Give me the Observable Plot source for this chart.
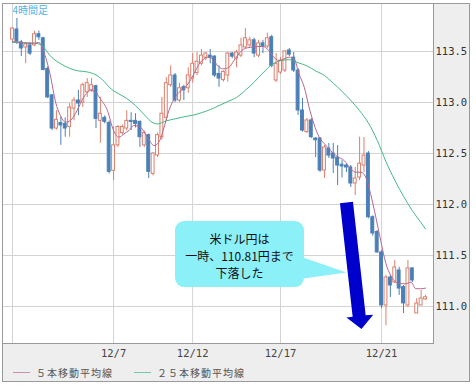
<!DOCTYPE html>
<html>
<head>
<meta charset="utf-8">
<script src="https://cdn.jsdelivr.net/npm/d3@7"></script>
<script src="https://cdn.jsdelivr.net/npm/@observablehq/plot@0.6"></script>
<style>
  html, body { margin: 0; padding: 0; background: #fff; }
  #wrap { position: relative; width: 476px; height: 387px; }
  #bg { position: absolute; left: 2px; top: 3px; width: 468px; height: 379px; background: #eeeeee; border: 1px solid #9a9a9a; box-sizing: border-box; }
  #chart { position: relative; }
  #legend { position: relative; height: 20px; font-family: "Noto Sans CJK JP", sans-serif; font-size: 10px; color: #555; }
</style>
</head>
<body>
<div id="wrap">
  <div id="bg"></div>
  <div id="chart"></div>
  <div id="legend"></div>
</div>
<script>
// ---- data (USD/JPY, 4-hour bars) ----
const opens = [113.618,113.716,113.59,113.54,113.56,113.56,113.67,113.63,113.33,113.07,
  112.745,112.80,112.79,112.76,112.94,113.02,113.00,113.10,113.12,113.16,
  112.82,112.85,112.80,112.33,112.58,112.70,112.745,112.82,112.82,112.81,
  112.58,112.68,112.30,112.48,112.66,112.85,113.17,113.265,113.02,113.15,
  113.14,113.235,113.29,113.38,113.44,113.46,113.45,113.28,113.22,113.265,
  113.48,113.43,113.46,113.54,113.56,113.61,113.46,113.58,113.55,113.64,
  113.216,113.294,113.314,113.51,113.44,113.314,112.922,112.71,112.824,112.647,
  112.647,112.333,112.549,112.50,112.46,112.39,112.382,112.363,112.206,112.265,
  112.382,112.50,111.875,111.73,111.53,111.01,111.284,111.235,111.353,111.19,
  111.01,111.373,110.931,111.01,111.069];
const highs = [113.735,113.824,113.61,113.58,113.59,113.70,113.70,113.64,113.35,113.08,
  112.92,112.86,112.85,112.99,113.05,113.12,113.19,113.235,113.235,113.17,
  113.05,112.87,112.82,112.76,112.775,112.78,112.92,112.90,112.89,112.82,
  112.72,112.69,112.51,112.70,113.05,113.245,113.36,113.285,113.19,113.17,
  113.34,113.48,113.49,113.52,113.49,113.52,113.46,113.36,113.31,113.49,
  113.49,113.51,113.63,113.725,113.64,113.63,113.61,113.61,113.68,113.66,
  113.48,113.44,113.51,113.53,113.49,113.333,113.04,112.843,112.843,112.657,
  112.657,112.578,112.598,112.598,112.578,112.43,112.40,112.382,112.363,112.66,
  112.657,112.52,111.89,111.745,111.55,111.304,111.304,111.451,111.385,111.206,
  111.451,111.382,111.078,111.157,111.108];
const lows = [113.59,113.569,113.45,113.38,113.46,113.55,113.61,113.31,113.04,112.725,
  112.73,112.58,112.66,112.66,112.82,112.87,112.95,113.05,113.10,112.745,
  112.60,112.79,112.30,112.235,112.56,112.68,112.72,112.725,112.75,112.56,
  112.56,112.255,112.28,112.46,112.63,112.82,113.15,113.00,113.00,113.02,
  113.09,113.19,113.265,113.36,113.41,113.38,113.245,113.15,113.20,113.20,
  113.43,113.34,113.44,113.53,113.54,113.44,113.44,113.48,113.53,113.34,
  113.196,113.275,113.294,113.45,113.294,112.873,112.71,112.696,112.647,112.46,
  112.314,112.255,112.451,112.304,112.186,112.26,112.314,112.167,112.088,112.235,
  112.314,111.86,111.69,111.52,110.98,110.81,111.088,111.225,111.108,110.93,
  110.993,111.235,110.931,111.01,111.06];
const closes = [113.725,113.598,113.53,113.57,113.48,113.67,113.64,113.32,113.05,112.745,
  112.83,112.775,112.745,112.95,113.02,112.99,113.17,113.19,113.17,112.84,
  112.89,112.81,112.32,112.58,112.76,112.76,112.82,112.81,112.79,112.66,
  112.70,112.32,112.50,112.68,112.89,113.19,113.265,113.02,113.14,113.12,
  113.265,113.38,113.40,113.46,113.48,113.44,113.265,113.235,113.30,113.48,
  113.45,113.49,113.56,113.63,113.61,113.48,113.58,113.55,113.63,113.36,
  113.38,113.41,113.50,113.47,113.314,112.922,112.725,112.824,112.66,112.63,
  112.333,112.56,112.48,112.451,112.382,112.373,112.363,112.206,112.255,112.40,
  112.48,111.875,111.716,111.53,111.01,111.284,111.206,111.382,111.176,111.03,
  111.373,111.255,111.029,111.078,111.09];

// 5-bar moving average (bar position, price)
const ma5Pos = [0,2,4,6,7,8.7,9.8,10.9,12,13.2,14.7,16.2,17.8,18.9,20,21.6,23,24.2,25.4,26.5,27.6,29.1,
  30.7,32.2,33.3,34.5,35.6,36.8,37.9,39,40.2,41.3,42.5,43.6,44.7,45.8,47,48.1,49.3,50.4,51.5,52.7,
  54.2,55.7,57.2,58.3,59.5,60.6,61.8,63,64.1,65.2,66.4,67.5,68.6,69.8,71,72.4,73.9,75.5,77,78.1,
  79.3,80.4,81.5,82.7,83.8,85,86.1,87.3,88.4,89.5,90.7,91.8,92.9,94];
const ma5Val = [113.598,113.588,113.578,113.588,113.51,113.248,113.003,112.873,112.807,112.824,112.922,113.052,
  113.118,113.10,113.036,112.922,112.725,112.66,112.693,112.725,112.775,112.758,
  112.66,112.578,112.611,112.758,112.922,113.036,113.10,113.134,113.199,113.281,113.379,113.428,113.444,
  113.412,113.346,113.33,113.346,113.412,113.477,113.526,
  113.542,113.549,113.549,113.51,113.444,113.412,113.428,113.444,113.428,113.281,113.15,112.954,112.791,
  112.66,112.595,112.529,112.471,112.431,112.35,112.317,
  112.317,112.268,112.105,111.875,111.647,111.419,111.304,111.238,111.223,111.223,111.238,111.174,111.174,111.18];

// 25-bar moving average
const ma25Pos = [0,4,6,7,8,9,11,13,15,17,19,21,22,24,26,28,30,32,33,35,37,39,41,43,45,47,49,51,53,55,57,59,61,63,65,
  67,69,71,73,75,77,79,81,83,85,87,89,91,93,94];
const ma25Val = [113.59,113.585,113.575,113.55,113.49,113.44,113.38,113.335,113.31,113.30,113.27,113.20,113.15,
  113.09,113.04,112.97,112.88,112.80,112.79,112.82,112.84,112.86,112.875,112.90,112.93,112.97,113.01,113.05,
  113.12,113.20,113.29,113.37,113.41,113.42,113.39,113.36,113.31,113.265,113.19,113.11,113.02,112.92,112.80,
  112.63,112.42,112.24,112.08,111.94,111.82,111.76];

// axes
const priceTicks = [111.0, 111.5, 112.0, 112.5, 113.0, 113.5];
const dayGridPos = [0, 23, 41, 61, 84];
const dayTickPos = [23, 41, 61, 84];
const dayTickLabels = ["12/7", "12/12", "12/17", "12/21"];

// texts
const chartTitle = "4時間足";
const calloutText = "米ドル円は\n一時、110.81円まで\n下落した";
const legendNames = ["５本移動平均線", "２５本移動平均線"];

// annotation geometry in data space (bar position, price)
const calloutBox = {x1: 37.1, x2: 66.45, y1: 111.186, y2: 111.833};
const calloutPointer = [{x: 65.5, y: 111.49}, {x: 76.0, y: 111.333}, {x: 65.5, y: 111.27}];
const calloutLabel = {x: 51.66, y: 111.5};
const arrowShape = [
  {x: 74.53, y: 112.013}, {x: 77.49, y: 112.026}, {x: 80.38, y: 110.913}, {x: 82.09, y: 110.920},
  {x: 79.43, y: 110.780}, {x: 76.01, y: 110.893}, {x: 77.42, y: 110.899}
];

// ---- styles ----
const upColor = "#dc7f6c";
const downColor = "#4b80b7";
const ma5Color = "#b9668f";
const ma25Color = "#45b884";
const gridColor = "#d3d3d3";
const monoFont = "DejaVu Sans Mono, monospace";
const jpFont = "Noto Sans CJK JP, sans-serif";

const candles = opens.map((o, i) => ({i, o, h: highs[i], l: lows[i], c: closes[i]}));
const ups = candles.filter(d => d.c >= d.o);
const downs = candles.filter(d => d.c < d.o);
const ma5 = ma5Pos.map((p, k) => ({p, v: ma5Val[k]}));
const ma25 = ma25Pos.map((p, k) => ({p, v: ma25Val[k]}));
const labelMap = new Map(dayTickPos.map((p, k) => [p, dayTickLabels[k]]));
const hw = 0.33;

const chart = Plot.plot({
  width: 476,
  height: 362,
  marginTop: 3,
  marginLeft: 2,
  marginRight: 43,
  marginBottom: 19,
  x: {type: "linear", domain: [-2.28, 95.82], label: null},
  y: {domain: [110.637, 113.971], label: null},
  style: {background: "transparent", overflow: "visible", fontFamily: monoFont},
  marks: [
    Plot.frame({fill: "white", stroke: "none"}),
    Plot.gridY(priceTicks, {stroke: gridColor, strokeOpacity: 1}),
    Plot.gridX(dayGridPos, {stroke: gridColor, strokeOpacity: 1}),
    Plot.text([chartTitle], {frameAnchor: "top-left", dx: 10, dy: 3, text: d => d, fill: "#4fb3e6",
      fontFamily: jpFont, fontSize: 10, textAnchor: "start", lineAnchor: "top"}),
    Plot.rect([calloutBox], {x1: "x1", x2: "x2", y1: "y1", y2: "y2", rx: 9, fill: "#8cf0f9"}),
    Plot.line(calloutPointer, {x: "x", y: "y", fill: "#8cf0f9", stroke: "none"}),
    Plot.text([calloutLabel], {x: "x", y: "y", text: () => calloutText, fontFamily: jpFont, fontSize: 12,
      lineHeight: 1.42, fill: "#111", lineAnchor: "middle", textAnchor: "middle"}),
    Plot.ruleX(ups, {x: "i", y1: "l", y2: "h", stroke: upColor, strokeWidth: 1}),
    Plot.ruleX(downs, {x: "i", y1: "l", y2: "h", stroke: downColor, strokeWidth: 1}),
    Plot.rect(ups, {x1: d => d.i - hw, x2: d => d.i + hw, y1: "o", y2: "c", fill: "white", stroke: upColor, strokeWidth: 1}),
    Plot.rect(downs, {x1: d => d.i - hw, x2: d => d.i + hw, y1: "o", y2: "c", fill: downColor, stroke: downColor, strokeWidth: 1}),
    Plot.line(ma25, {x: "p", y: "v", stroke: ma25Color, strokeWidth: 1, curve: "monotone-x"}),
    Plot.line(ma5, {x: "p", y: "v", stroke: ma5Color, strokeWidth: 1, curve: "monotone-x"}),
    Plot.line(arrowShape, {x: "x", y: "y", fill: "#0000cd", stroke: "none"}),
    Plot.axisY(priceTicks, {anchor: "right", tickSize: 0, tickPadding: 2, tickFormat: d3.format(".1f"),
      fontSize: 10.5, fontFamily: monoFont, fill: "#333", label: null}),
    Plot.axisX(dayTickPos, {anchor: "bottom", tickSize: 0, tickPadding: 6, tickFormat: d => labelMap.get(d),
      fontSize: 10.5, fontFamily: monoFont, fill: "#444", label: null}),
    Plot.frame({stroke: "#9a9a9a", fill: "none"})
  ]
});
document.getElementById("chart").appendChild(chart);

// legend below the plot
const legendLeft = [13, 134];
const legendColors = [ma5Color, ma25Color];
const legend = d3.select("#legend");
legendNames.forEach((name, k) => {
  const item = legend.append("div")
    .style("position", "absolute").style("left", legendLeft[k] + "px").style("top", "0px")
    .style("height", "20px").style("display", "flex").style("align-items", "center");
  item.append("span").style("display", "inline-block").style("width", "17px").style("height", "1px")
    .style("background", legendColors[k]).style("opacity", "0.7").style("margin-right", "6px");
  item.append("span").text(name).style("letter-spacing", "1px").style("white-space", "nowrap");
});
</script>
</body>
</html>
